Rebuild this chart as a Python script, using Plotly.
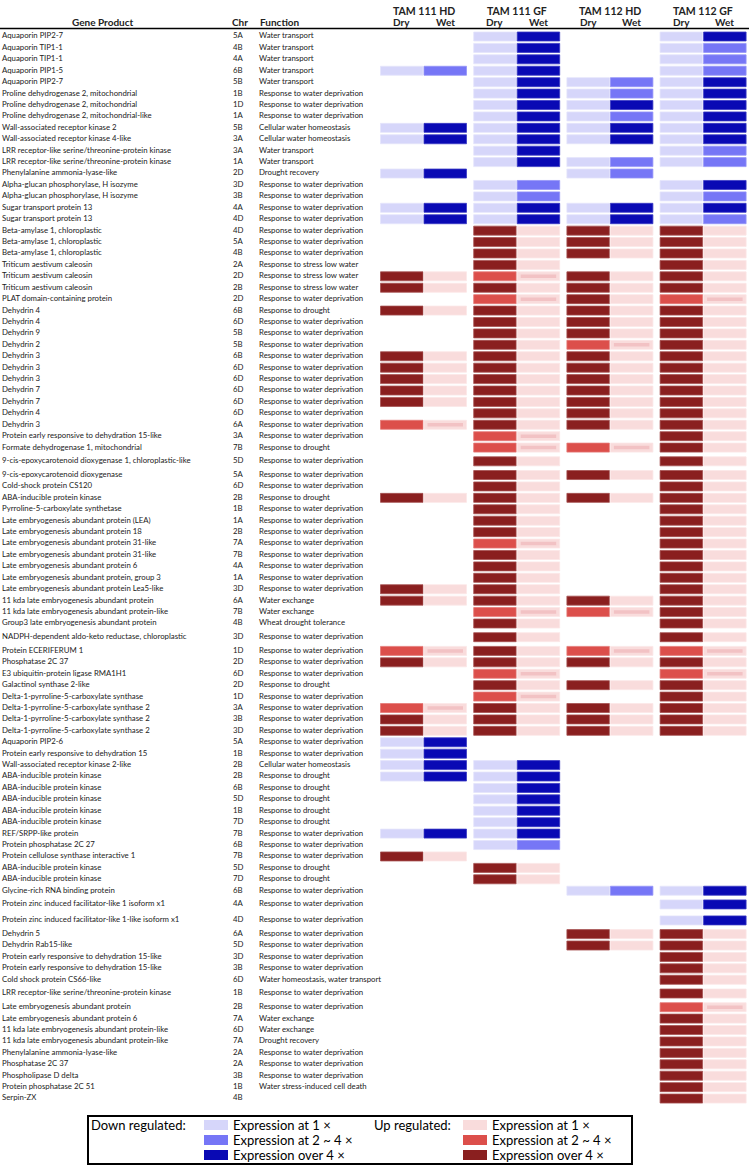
'''
    Drought-responsive gene expression table: one row per gene product,
    coloured cells for Dry / Wet in the four TAM line x environment groups.
'''

import plotly.graph_objects as go

RWD = 'Response to water deprivation'

GENE_PRODUCTS = [
    'Aquaporin PIP2-7', 'Aquaporin TIP1-1', 'Aquaporin TIP1-1', 'Aquaporin PIP1-5', 'Aquaporin PIP2-7',
    'Proline dehydrogenase 2, mitochondrial', 'Proline dehydrogenase 2, mitochondrial',
    'Proline dehydrogenase 2, mitochondrial-like', 'Wall-associated receptor kinase 2',
    'Wall-associated receptor kinase 4-like', 'LRR receptor-like serine/threonine-protein kinase',
    'LRR receptor-like serine/threonine-protein kinase', 'Phenylalanine ammonia-lyase-like',
    'Alpha-glucan phosphorylase, H isozyme', 'Alpha-glucan phosphorylase, H isozyme',
    'Sugar transport protein 13', 'Sugar transport protein 13', 'Beta-amylase 1, chloroplastic',
    'Beta-amylase 1, chloroplastic', 'Beta-amylase 1, chloroplastic', 'Triticum aestivum caleosin',
    'Triticum aestivum caleosin', 'Triticum aestivum caleosin', 'PLAT domain-containing protein',
    'Dehydrin 4', 'Dehydrin 4', 'Dehydrin 9', 'Dehydrin 2', 'Dehydrin 3', 'Dehydrin 3', 'Dehydrin 3',
    'Dehydrin 7', 'Dehydrin 7', 'Dehydrin 4', 'Dehydrin 3',
    'Protein early responsive to dehydration 15-like', 'Formate dehydrogenase 1, mitochondrial',
    '9-cis-epoxycarotenoid dioxygenase 1, chloroplastic-like', '9-cis-epoxycarotenoid dioxygenase',
    'Cold-shock protein CS120', 'ABA-inducible protein kinase', 'Pyrroline-5-carboxylate synthetase',
    'Late embryogenesis abundant protein (LEA)', 'Late embryogenesis abundant protein 18',
    'Late embryogenesis abundant protein 31-like', 'Late embryogenesis abundant protein 31-like',
    'Late embryogenesis abundant protein 6', 'Late embryogenesis abundant protein, group 3',
    'Late embryogenesis abundant protein Lea5-like', '11 kda late embryogenesis abundant protein',
    '11 kda late embryogenesis abundant protein-like', 'Group3 late embryogenesis abundant protein',
    'NADPH-dependent aldo-keto reductase, chloroplastic', 'Protein ECERIFERUM 1', 'Phosphatase 2C 37',
    'E3 ubiquitin-protein ligase RMA1H1', 'Galactinol synthase 2-like',
    'Delta-1-pyrroline-5-carboxylate synthase', 'Delta-1-pyrroline-5-carboxylate synthase 2',
    'Delta-1-pyrroline-5-carboxylate synthase 2', 'Delta-1-pyrroline-5-carboxylate synthase 2',
    'Aquaporin PIP2-6', 'Protein early responsive to dehydration 15',
    'Wall-associated receptor kinase 2-like', 'ABA-inducible protein kinase',
    'ABA-inducible protein kinase', 'ABA-inducible protein kinase', 'ABA-inducible protein kinase',
    'ABA-inducible protein kinase', 'REF/SRPP-like protein', 'Protein phosphatase 2C 27',
    'Protein cellulose synthase interactive 1', 'ABA-inducible protein kinase',
    'ABA-inducible protein kinase', 'Glycine-rich RNA binding protein',
    'Protein zinc induced facilitator-like 1 isoform x1',
    'Protein zinc induced facilitator-like 1-like isoform x1', 'Dehydrin 5', 'Dehydrin Rab15-like',
    'Protein early responsive to dehydration 15-like', 'Protein early responsive to dehydration 15-like',
    'Cold shock protein CS66-like', 'LRR receptor-like serine/threonine-protein kinase',
    'Late embryogenesis abundant protein', 'Late embryogenesis abundant protein 6',
    '11 kda late embryogenesis abundant protein-like', '11 kda late embryogenesis abundant protein-like',
    'Phenylalanine ammonia-lyase-like', 'Phosphatase 2C 37', 'Phospholipase D delta',
    'Protein phosphatase 2C 51', 'Serpin-ZX',
]

CHROMOSOMES = [
    '5A', '4B', '4A', '6B', '5B', '1B', '1D', '1A', '5B', '3A',
    '3A', '1A', '2D', '3D', '3B', '4A', '4D', '4D', '5A', '4B',
    '2A', '2D', '2B', '2D', '6B', '6D', '5B', '5B', '6B', '6D',
    '6D', '6D', '6D', '6D', '6A', '3A', '7B', '5D', '5A', '6D',
    '2B', '1B', '1A', '2B', '7A', '7B', '4A', '1A', '3D', '6A',
    '7B', '4B', '3D', '1D', '2D', '6D', '2D', '1D', '3A', '3B',
    '3D', '5A', '1B', '2B', '2B', '6B', '5D', '1B', '7D', '7B',
    '6B', '7B', '5D', '7D', '6B', '4A', '4D', '6A', '5D', '3D',
    '3B', '6D', '1B', '2B', '7A', '6D', '7A', '2A', '2A', '3B',
    '1B', '4B',
]

FUNCTIONS = (
    ['Water transport'] * 5 + [RWD] * 3 + ['Cellular water homeostasis'] * 2
    + ['Water transport'] * 2 + ['Drought recovery'] + [RWD] * 7
    + ['Response to stress low water'] * 3 + [RWD] + ['Response to drought'] + [RWD] * 11
    + ['Response to drought'] + [RWD] * 3 + ['Response to drought'] + [RWD] * 8
    + ['Water exchange'] * 2 + ['Wheat drought tolerance'] + [RWD] * 4
    + ['Response to drought'] + [RWD] * 6 + ['Cellular water homeostasis']
    + ['Response to drought'] * 5 + [RWD] * 3 + ['Response to drought'] * 2 + [RWD] * 7
    + ['Water homeostasis, water transport'] + [RWD] * 2 + ['Water exchange'] * 2
    + ['Drought recovery'] + [RWD] * 3 + ['Water stress-induced cell death']
)

GROUPS = ['TAM 111 HD', 'TAM 111 GF', 'TAM 112 HD', 'TAM 112 GF']
CONDITIONS = ['Dry', 'Wet']

# expression level: -1/-2/-3 down regulated at 1x / 2~4x / over 4x,
# 1/2/3 up regulated at 1x / 2~4x / over 4x, 0 = not reported
TAM111_HD_DRY = [
    0, 0, 0, -1, 0, 0, 0, 0, -1, -1,
    0, 0, -1, 0, 0, -1, -1, 0, 0, 0,
    0, 3, 3, 0, 3, 0, 0, 0, 3, 3,
    3, 3, 3, 0, 2, 0, 0, 0, 0, 0,
    3, 0, 0, 0, 0, 0, 0, 0, 3, 3,
    0, 0, 0, 2, 3, 0, 0, 0, 2, 3,
    3, -1, -1, -1, -1, 0, 0, 0, 0, -1,
    0, 3, 0, 0, 0, 0, 0, 0, 0, 0,
    0, 0, 0, 0, 0, 0, 0, 0, 0, 0,
    0, 0,
]
TAM111_HD_WET = [
    0, 0, 0, -2, 0, 0, 0, 0, -3, -3,
    0, 0, -3, 0, 0, -3, -3, 0, 0, 0,
    0, 1, 1, 0, 1, 0, 0, 0, 1, 1,
    1, 1, 1, 0, 1, 0, 0, 0, 0, 0,
    1, 0, 0, 0, 0, 0, 0, 0, 1, 1,
    0, 0, 0, 1, 1, 0, 0, 0, 1, 1,
    1, -3, -3, -3, -3, 0, 0, 0, 0, -3,
    0, 1, 0, 0, 0, 0, 0, 0, 0, 0,
    0, 0, 0, 0, 0, 0, 0, 0, 0, 0,
    0, 0,
]
TAM111_GF_DRY = [
    -1, -1, -1, -1, -1, -1, -1, -1, -1, -1,
    -1, -1, 0, -1, -1, -1, -1, 3, 3, 3,
    3, 2, 3, 2, 3, 3, 3, 3, 3, 3,
    3, 3, 3, 3, 3, 2, 2, 3, 3, 3,
    3, 3, 3, 3, 2, 3, 3, 3, 3, 3,
    2, 3, 3, 3, 3, 2, 3, 2, 3, 3,
    3, 0, 0, -1, -1, -1, -1, -1, -1, -1,
    -1, 0, 3, 3, 0, 0, 0, 0, 0, 0,
    0, 0, 0, 0, 0, 0, 0, 0, 0, 0,
    0, 0,
]
TAM111_GF_WET = [
    -3, -3, -3, -3, -3, -3, -3, -3, -3, -3,
    -3, -3, 0, -2, -2, -3, -3, 1, 1, 1,
    1, 1, 1, 1, 1, 1, 1, 1, 1, 1,
    1, 1, 1, 1, 1, 1, 1, 1, 1, 1,
    1, 1, 1, 1, 1, 1, 1, 1, 1, 1,
    1, 1, 1, 1, 1, 1, 1, 1, 1, 1,
    1, 0, 0, -3, -3, -3, -3, -3, -3, -3,
    -2, 0, 1, 1, 0, 0, 0, 0, 0, 0,
    0, 0, 0, 0, 0, 0, 0, 0, 0, 0,
    0, 0,
]
TAM112_HD_DRY = [
    0, 0, 0, 0, -1, -1, -1, -1, -1, -1,
    0, -1, -1, 0, 0, -1, -1, 3, 3, 3,
    0, 3, 3, 3, 3, 3, 3, 2, 3, 3,
    3, 3, 3, 3, 3, 0, 2, 0, 3, 0,
    3, 0, 0, 0, 0, 0, 0, 0, 0, 3,
    2, 0, 0, 2, 3, 0, 3, 0, 3, 3,
    3, 0, 0, 0, 0, 0, 0, 0, 0, 0,
    0, 0, 0, 0, -1, 0, 0, 3, 3, 0,
    0, 0, 0, 0, 0, 0, 0, 0, 0, 0,
    0, 0,
]
TAM112_HD_WET = [
    0, 0, 0, 0, -2, -2, -3, -2, -3, -3,
    0, -2, -2, 0, 0, -3, -3, 1, 1, 1,
    0, 1, 1, 1, 1, 1, 1, 1, 1, 1,
    1, 1, 1, 1, 1, 0, 1, 0, 1, 0,
    1, 0, 0, 0, 0, 0, 0, 0, 0, 1,
    1, 0, 0, 1, 1, 0, 1, 0, 1, 1,
    1, 0, 0, 0, 0, 0, 0, 0, 0, 0,
    0, 0, 0, 0, -2, 0, 0, 1, 1, 0,
    0, 0, 0, 0, 0, 0, 0, 0, 0, 0,
    0, 0,
]
TAM112_GF_DRY = [
    -1, -1, -1, -1, -1, -1, -1, -1, -1, -1,
    -1, -1, 0, -1, -1, -1, -1, 3, 3, 3,
    3, 3, 3, 2, 3, 3, 3, 3, 3, 3,
    3, 3, 3, 3, 3, 3, 3, 3, 3, 3,
    3, 3, 3, 3, 3, 3, 3, 3, 3, 3,
    3, 3, 3, 2, 3, 2, 3, 3, 3, 3,
    3, 0, 0, 0, 0, 0, 0, 0, 0, 0,
    0, 0, 0, 0, -1, -1, -1, 3, 3, 3,
    3, 3, 3, 2, 3, 3, 3, 3, 3, 3,
    3, 3,
]
TAM112_GF_WET = [
    -3, -2, -2, -2, -3, -3, -3, -3, -3, -3,
    -2, -2, 0, -3, -2, -3, -2, 1, 1, 1,
    1, 1, 1, 1, 1, 1, 1, 1, 1, 1,
    1, 1, 1, 1, 1, 1, 1, 1, 1, 1,
    1, 1, 1, 1, 1, 1, 1, 1, 1, 1,
    1, 1, 1, 1, 1, 1, 1, 1, 1, 1,
    1, 0, 0, 0, 0, 0, 0, 0, 0, 0,
    0, 0, 0, 0, -3, -3, -3, 1, 1, 1,
    1, 1, 1, 1, 1, 1, 1, 1, 1, 1,
    1, 1,
]

EXPRESSION = [
    (TAM111_HD_DRY, TAM111_HD_WET),
    (TAM111_GF_DRY, TAM111_GF_WET),
    (TAM112_HD_DRY, TAM112_HD_WET),
    (TAM112_GF_DRY, TAM112_GF_WET),
]

LEVEL_COLOURS = {-1: '#d6d6fa', -2: '#7676f6', -3: '#0909b4',
                 1: '#f9dcdc', 2: '#dc4f4b', 3: '#8a1f1f'}
EDGE_COLOURS = {-1: '#e4e4fb', -2: '#9494f7', -3: '#3a3ac4',
                1: '#fbe7e7', 2: '#e47a77', 3: '#a65252'}
STRIPE_COLOUR = '#f2c2c4'
LEGEND_LABELS = ['Expression at 1 \u00d7', 'Expression at 2 ~ 4 \u00d7', 'Expression over 4 \u00d7']

FONT = 'Lato'
TEXT_COLOUR = '#222222'

# page layout in pixels (both axes run in pixel units)
W, H = 749, 1166
FIRST_ROW = 36.5
ROW_PX = 11.42
TALL_ROWS = {37, 52, 75, 76, 82}
CELL_X0 = 380
CELL_W = 43.5
GROUP_PITCH = 93.2
CELL_H = 9


def row_centres():
    '''
        Vertical centre of every row; a few rows sit in taller slots.
    '''
    heights = [1.4 if i in TALL_ROWS else 1.0 for i in range(len(GENE_PRODUCTS))]
    ys, y = [], FIRST_ROW
    for i, h in enumerate(heights):
        if i:
            y += (heights[i - 1] + h) / 2 * ROW_PX
        ys.append(y)
    return ys


def init_figure():
    fig = go.Figure()
    fig.update_layout(
        width=W, height=H,
        margin=dict(l=0, r=0, t=0, b=0),
        paper_bgcolor='white', plot_bgcolor='white',
        showlegend=False, barmode='overlay',
        xaxis=dict(range=[0, W], visible=False, fixedrange=True),
        yaxis=dict(range=[H, 0], visible=False, fixedrange=True),
        font=dict(family=FONT, color=TEXT_COLOUR),
    )
    return fig


def draw_cells(fig, ys):
    for g, pair in enumerate(EXPRESSION):
        for c, levels in enumerate(pair):
            left = CELL_X0 + g * GROUP_PITCH + c * CELL_W
            keep = [i for i, v in enumerate(levels) if v != 0]
            fig.add_trace(go.Bar(
                orientation='h',
                y=[ys[i] for i in keep],
                x=[CELL_W - 1] * len(keep),
                base=left + 0.5,
                width=CELL_H,
                marker=dict(color=[LEVEL_COLOURS[levels[i]] for i in keep],
                            line=dict(width=0.8, color=[EDGE_COLOURS[levels[i]] for i in keep])),
                hovertext=[f'{GENE_PRODUCTS[i]} - {GROUPS[g]} {CONDITIONS[c]}' for i in keep],
                hoverinfo='text',
            ))
        # faint inner stripe on the Wet cell when Dry is 2~4x up
        dry, wet = pair
        keep = [i for i, v in enumerate(dry) if v == 2]
        left = CELL_X0 + g * GROUP_PITCH + CELL_W
        fig.add_trace(go.Bar(
            orientation='h', y=[ys[i] for i in keep], x=[CELL_W - 8] * len(keep),
            base=left + 4, width=3.5, marker=dict(color=STRIPE_COLOUR, line=dict(width=0)),
            hoverinfo='skip',
        ))
    return fig


def draw_text(fig, ys):
    size = 7.8
    for x, texts in ((2, GENE_PRODUCTS), (233, CHROMOSOMES), (259, FUNCTIONS)):
        fig.add_trace(go.Scatter(
            x=[x] * len(texts), y=ys, text=texts, mode='text',
            textposition='middle right', cliponaxis=False,
            textfont=dict(family=FONT, size=size, color=TEXT_COLOUR),
            hoverinfo='skip',
        ))
    return fig


def draw_headers(fig):
    def label(text, x, y, size=10, anchor='center'):
        fig.add_annotation(x=x, y=y, xref='x', yref='y', text=f'<b>{text}</b>', showarrow=False,
                           xanchor=anchor, yanchor='middle',
                           font=dict(family=FONT, size=size, color=TEXT_COLOUR))

    label('Gene Product', 103, 22)
    label('Chr', 240, 22)
    label('Function', 258, 22, anchor='left')
    for g, name in enumerate(GROUPS):
        left = CELL_X0 + g * GROUP_PITCH
        label(name, left + CELL_W, 11, size=10.5)
        for c, cond in enumerate(CONDITIONS):
            label(cond, left + CELL_W * (c + 0.5), 22)
    fig.add_shape(type='line', x0=0, x1=W, y0=28.5, y1=28.5, xref='x', yref='y',
                  line=dict(color='black', width=1.5))
    return fig


def draw_legend(fig):
    fig.add_shape(type='rect', x0=88, x1=632, y0=1116, y1=1164, xref='x', yref='y',
                  line=dict(color='black', width=2), fillcolor='white')
    font = dict(family=FONT, size=13, color='black')
    for title, tx, sx, levels in (('Down regulated:', 90, 204, [-1, -2, -3]),
                                  ('Up regulated:', 373, 463, [1, 2, 3])):
        fig.add_annotation(x=tx, y=1125, xref='x', yref='y', text=title, showarrow=False,
                           xanchor='left', yanchor='middle', font=font, borderpad=0)
        for k, lev in enumerate(levels):
            yc = 1125 + 15 * k
            fig.add_shape(type='rect', x0=sx, x1=sx + 24, y0=yc - 5, y1=yc + 5, xref='x', yref='y',
                          line=dict(width=0), fillcolor=LEVEL_COLOURS[lev])
            fig.add_annotation(x=sx + 28, y=yc, xref='x', yref='y', text=LEGEND_LABELS[k],
                               showarrow=False, xanchor='left', yanchor='middle', font=font,
                               borderpad=0)
    return fig


ys = row_centres()
fig = init_figure()
fig = draw_cells(fig, ys)
fig = draw_text(fig, ys)
fig = draw_headers(fig)
fig = draw_legend(fig)
# the page's default body margin would push the figure 8px off the window
fig.write_html('out.html', config={'displayModeBar': False},
               post_script="document.body.style.margin = '0';")
